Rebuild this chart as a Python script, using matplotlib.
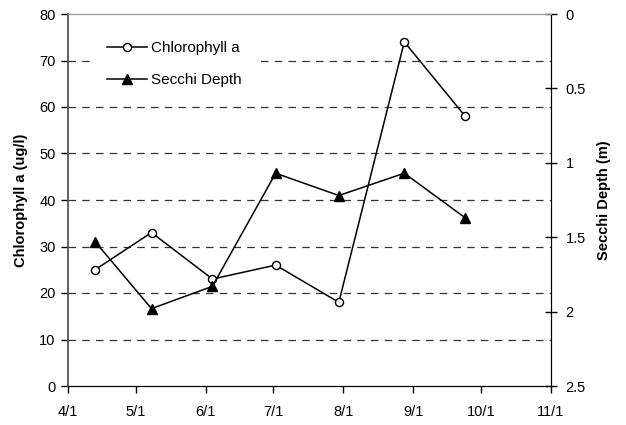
import matplotlib.pyplot as plt
import datetime as dt

plt.rcParams['font.family'] = ['Liberation Sans', 'DejaVu Sans']

# sampling dates (only month/day shown on the axis)
dates = ["2006-04-13", "2006-05-08", "2006-06-04", "2006-07-02",
         "2006-07-30", "2006-08-28", "2006-09-24"]
chla = [25, 33, 23, 26, 18, 74, 58]
secchi = [1.53, 1.98, 1.83, 1.07, 1.22, 1.07, 1.37]
xtick_dates = ["2006-04-01", "2006-05-01", "2006-06-01", "2006-07-01",
               "2006-08-01", "2006-09-01", "2006-10-01", "2006-11-01"]
xtick_labels = ["4/1", "5/1", "6/1", "7/1", "8/1", "9/1", "10/1", "11/1"]

x = [dt.datetime.strptime(d, "%Y-%m-%d") for d in dates]
xt = [dt.datetime.strptime(d, "%Y-%m-%d") for d in xtick_dates]

fig = plt.figure(figsize=(6.26, 4.25), dpi=100)
ax = fig.add_axes([68 / 626, 1 - 386 / 425, (551 - 68) / 626, (386 - 14) / 425])
ax2 = ax.twinx()

# dashed gridlines
for g in range(10, 80, 10):
    ax.axhline(g, color='#333333', lw=0.9, ls=(0, (6, 5)), zorder=0)

l1, = ax.plot(x, chla, color='black', lw=1.1, marker='o', ms=5.8,
              mfc='white', mec='black', mew=1.0, label='Chlorophyll a', zorder=3)
l2, = ax2.plot(x, secchi, color='black', lw=1.1, marker='^', ms=7.5,
               mfc='black', mec='black', label='Secchi Depth', zorder=3)

ax.set_xlim(xt[0], xt[-1])
ax.set_xticks(xt)
ax.set_xticklabels(xtick_labels)
ax.set_ylim(0, 80)
ax.set_yticks(range(0, 81, 10))
ax2.set_ylim(2.5, 0)
ax2.set_yticks([0, 0.5, 1, 1.5, 2, 2.5])
ax2.set_yticklabels(["0", "0.5", "1", "1.5", "2", "2.5"])

ax.tick_params(axis='x', labelsize=10.5, direction='out', length=5, width=1, pad=9)
ax.tick_params(axis='y', labelsize=10.5, direction='out', length=5, width=1, pad=4)
ax2.tick_params(axis='y', labelsize=10.5, direction='inout', length=9, width=1, pad=6)
for a in (ax, ax2):
    a.spines['top'].set_color('#999999')
ax.spines['left'].set_color('#555555')
ax.spines['left'].set_linewidth(1.3)
ax.spines['bottom'].set_color('black')
ax2.spines['right'].set_color('black')
ax2.spines['left'].set_visible(False)

ax.set_ylabel('Chlorophyll a (ug/l)', fontsize=10.5, fontweight='bold', labelpad=8)
ax2.set_ylabel('Secchi Depth (m)', fontsize=10.5, fontweight='bold', labelpad=8)

ax2.set_zorder(ax.get_zorder() + 1)
ax2.patch.set_visible(False)
leg = ax2.legend(handles=[l1, l2], loc='upper left', bbox_to_anchor=(0.03, 0.993),
                 frameon=True, fontsize=11, handlelength=2.6, labelspacing=1.2,
                 handletextpad=0.3, borderpad=1.1, fancybox=False)
leg.get_frame().set_edgecolor('white')
leg.get_frame().set_facecolor('white')
leg.get_frame().set_alpha(1)

fig.savefig('out.png', dpi=100)
